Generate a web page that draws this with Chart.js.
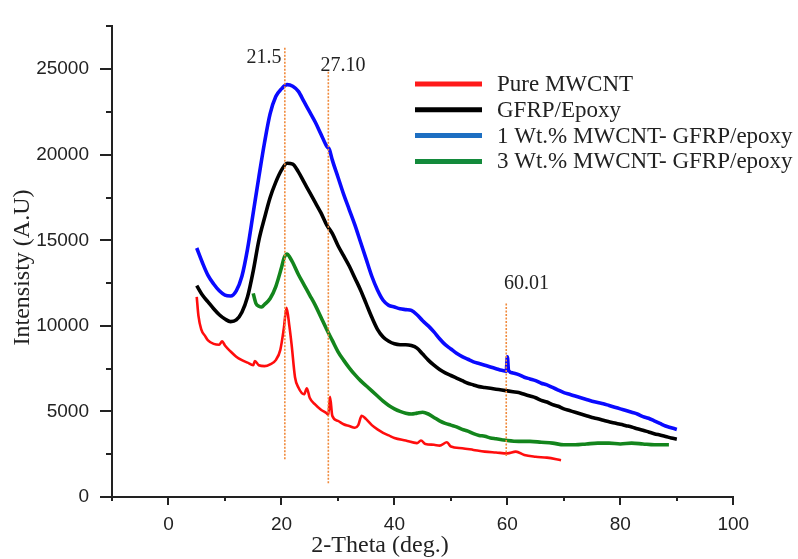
<!DOCTYPE html>
<html>
<head>
<meta charset="utf-8">
<script src="https://cdn.jsdelivr.net/npm/chart.js@4/dist/chart.umd.min.js"></script>
<style>
html,body{margin:0;padding:0;background:#fff;}
canvas{display:block;}
</style>
</head>
<body>
<canvas id="c" width="798" height="559"></canvas>
<script>
// ---- Data ----
const seriesNames = ["Pure MWCNT", "GFRP/Epoxy", "1 Wt.% MWCNT- GFRP/epoxy", "3 Wt.% MWCNT- GFRP/epoxy"];

const thetaRed = [5,5.3,5.8,6.5,7,8,9,9.5,10,11,12,13,14,15,15.3,16,17,18,19,19.8,20.4,20.9,21.4,21.8,22.4,23,24,24.5,25,26,27,28,28.3,28.6,29,30,31,32,33,33.6,34.2,35,36,37,38,39,40,42,44,44.7,45.5,47,48,49.3,50,52,54,56,58,60,61.5,63,65,67,69.5];
const redVals   = [11700,10600,9800,9400,9150,8950,8900,9100,8850,8500,8200,8000,7850,7700,7950,7700,7650,7750,8000,8600,9800,11050,10000,8900,7000,6400,6000,6350,5800,5400,5100,4900,4800,5850,4750,4450,4250,4150,4050,4200,4750,4550,4200,3950,3750,3600,3450,3300,3150,3300,3100,3050,3000,3200,2950,2850,2750,2650,2600,2550,2650,2450,2350,2300,2150];

const thetaBlack = [5,6,7,8,9,10,11,12,13,14,15,16,17,18,19,20,21,22,23,24,25,26,27,28,29,30,31,32,33,34,35,36,37,38,39,40,41,42,43,44,45,46,47,48,49,50,51,52,53,54,55,56,57,58,59,60,61,62,63,64,65,66,67,68,69,70,71,72,73,74,75,76,77,78,79,80,81,82,83,84,85,86,87,88,89,90];
const blackVals  = [12350,11800,11400,11000,10650,10400,10250,10350,10800,11700,13200,15000,16300,17500,18400,19100,19500,19450,19000,18400,17800,17200,16600,15900,15400,14700,14100,13500,12800,12100,11300,10500,9800,9350,9100,8950,8900,8900,8850,8700,8350,8000,7700,7450,7250,7100,6950,6800,6650,6550,6450,6400,6350,6300,6250,6200,6150,6100,6000,5900,5800,5650,5550,5400,5300,5150,5050,4950,4850,4750,4650,4570,4480,4400,4320,4250,4170,4090,3990,3900,3800,3700,3620,3540,3450,3380];

const thetaBlue = [5,6,7,8,9,10,11,12,13,14,15,16,17,18,19,20,21,22,23,24,25,26,27,28,28.5,29,30,31,32,33,34,35,36,37,38,39,40,41,42,43,44,45,46,47,48,49,50,51,52,53,54,55,56,57,58,59,59.8,60,60.2,61,62,63,64,65,66,67,68,69,70,71,72,73,74,75,76,77,78,79,80,81,82,83,84,85,86,87,88,89,90];
const blueVals  = [14550,13700,12950,12450,12050,11800,11750,12050,12900,14500,16600,18700,20700,22400,23400,23850,24100,24000,23700,23100,22500,21900,21200,20500,20300,19700,18700,17700,16800,15900,14900,13900,12900,12100,11500,11200,11100,11000,10950,10900,10650,10300,10000,9650,9250,8900,8650,8400,8200,8050,7900,7800,7700,7600,7500,7400,7350,8200,7400,7250,7150,7000,6900,6800,6650,6550,6400,6250,6100,6000,5900,5800,5700,5600,5520,5450,5350,5250,5150,5050,4950,4850,4700,4600,4450,4300,4150,4050,3950];

const thetaGreen = [15,15.5,16,16.5,17,18,19,20,20.5,21,21.5,22,23,24,25,26,27,28,29,30,31,32,33,34,35,36,37,38,39,40,41,42,43,44,45,46,47,48,49,50,51,52,53,54,55,56,57,58,59,60,62,64,66,68,70,72,74,76,78,80,82,84,86,88,88.6];
const greenVals  = [11900,11300,11150,11100,11250,11600,12300,13400,14000,14200,14000,13700,13000,12400,11800,11200,10500,9800,9150,8500,8000,7550,7150,6800,6500,6200,5900,5600,5350,5150,5000,4900,4850,4900,4950,4850,4650,4450,4300,4200,4100,3950,3850,3700,3600,3550,3450,3400,3350,3300,3250,3250,3200,3150,3050,3050,3100,3150,3150,3100,3150,3100,3050,3050,3050];

// reference (dotted) lines
const refTheta  = [20.6, 28.3, 59.8];
const refTop    = [26300, 24900, 11400];
const refBottom = [2200, 800, 2400];
const refLabels = ["21.5", "27.10", "60.01"];
const refLabelTheta = [16.9, 30.9, 63.4];
const refLabelY     = [25650, 25200, 12450];

// axis ticks
const xMin = -10, xMax = 100, xStep = 10, xLabelStep = 20;
const yMin = 0, yMax = 27500, yStep = 2500, yLabelStep = 5000;
const xTitle = "2-Theta (deg.)";
const yTitle = "Intensisty (A.U)";

// ---- styling ----
const lineColors   = ["#ff0d0d", "#000000", "#0a0aff", "#13851c"];
const legendColors = ["#ff1a1a", "#000000", "#1d6fc2", "#138a3b"];
const lineWidths   = [2.6, 3.6, 3.6, 3.6];

function pts(xs, ys){ return xs.map((x,i)=>({x:x, y:ys[i]})); }

const curveData = [pts(thetaRed, redVals), pts(thetaBlack, blackVals), pts(thetaBlue, blueVals), pts(thetaGreen, greenVals)];

const datasets = [];
refTheta.forEach((t,i)=>{
  datasets.push({
    label: 'ref'+i, isRef: true,
    data: [{x:t, y:refBottom[i]}, {x:t, y:refTop[i]}],
    borderColor: '#f08a3c', borderWidth: 1.6, borderDash: [2,1.5],
    pointRadius: 0, order: 0, fill: false
  });
});
curveData.forEach((d,i)=>{
  datasets.push({
    label: seriesNames[i],
    data: d,
    borderColor: lineColors[i], borderWidth: lineWidths[i],
    pointRadius: 0, order: 4 - i, fill: false,
    cubicInterpolationMode: 'monotone'
  });
});

const SERIF = '"Liberation Serif", "Times New Roman", serif';
const SANS = '"Liberation Sans", Arial, sans-serif';

const decor = {
  id: 'decor',
  afterDraw(chart){
    const {ctx, chartArea, scales:{x, y}} = chart;
    ctx.save();
    // ticks
    ctx.strokeStyle = '#222'; ctx.lineWidth = 2;
    y.ticks.forEach(t=>{
      const py = Math.round(y.getPixelForValue(t.value));
      const len = (t.value % yLabelStep === 0) ? 12 : 6;
      ctx.beginPath(); ctx.moveTo(chartArea.left - len, py); ctx.lineTo(chartArea.left, py); ctx.stroke();
    });
    x.ticks.forEach(t=>{
      const px = Math.round(x.getPixelForValue(t.value));
      const len = (t.value % xLabelStep === 0) ? 8 : 4;
      ctx.beginPath(); ctx.moveTo(px, chartArea.bottom); ctx.lineTo(px, chartArea.bottom + len); ctx.stroke();
    });
    // reference labels
    ctx.fillStyle = '#222';
    ctx.font = '20px ' + SERIF;
    ctx.textAlign = 'center'; ctx.textBaseline = 'middle';
    refLabels.forEach((s,i)=>{
      ctx.fillText(s, x.getPixelForValue(refLabelTheta[i]), y.getPixelForValue(refLabelY[i]));
    });
    // legend
    const lx0 = 415, lx1 = 482, ly0 = 84, ldy = 25.8;
    ctx.font = '23px ' + SERIF;
    ctx.textAlign = 'left';
    seriesNames.forEach((s,i)=>{
      const yy = ly0 + i*ldy;
      ctx.strokeStyle = legendColors[i]; ctx.lineWidth = 5;
      ctx.beginPath(); ctx.moveTo(lx0, yy); ctx.lineTo(lx1, yy); ctx.stroke();
      ctx.fillStyle = '#222';
      ctx.fillText(s, 497, yy + 1);
    });
    // axis titles
    ctx.font = '24px ' + SERIF;
    ctx.fillStyle = '#222';
    ctx.textAlign = 'center'; ctx.textBaseline = 'middle';
    ctx.fillText(xTitle, 380, 546);
    ctx.translate(22.5, 267.5); ctx.rotate(-Math.PI/2);
    ctx.fillText(yTitle, 0, 0);
    ctx.restore();
  }
};

new Chart(document.getElementById('c'), {
  type: 'line',
  data: { datasets },
  options: {
    responsive: false,
    devicePixelRatio: 1,
    animation: false,
    events: [],
    layout: { padding: { left: 0, right: 64.7, top: 15, bottom: 0 } },
    plugins: { legend: { display: false }, tooltip: { enabled: false } },
    scales: {
      x: {
        type: 'linear', min: xMin, max: xMax,
        grid: { display: false },
        border: { display: true, color: '#222', width: 2 },
        ticks: {
          stepSize: xStep, autoSkip: false, maxRotation: 0, padding: 8,
          color: '#222', font: { family: SANS, size: 19 },
          callback: v => (v % xLabelStep === 0 ? String(v) : '')
        },
        afterFit: s => { s.height = 62; }
      },
      y: {
        type: 'linear', min: yMin, max: yMax,
        grid: { display: false },
        border: { display: true, color: '#222', width: 2 },
        ticks: {
          stepSize: yStep, autoSkip: false, padding: 15,
          color: '#222', font: { family: SANS, size: 19 },
          callback: v => (v % yLabelStep === 0 ? String(v) : '')
        },
        afterFit: s => { s.width = 112; }
      }
    }
  },
  plugins: [decor]
});
</script>
</body>
</html>
